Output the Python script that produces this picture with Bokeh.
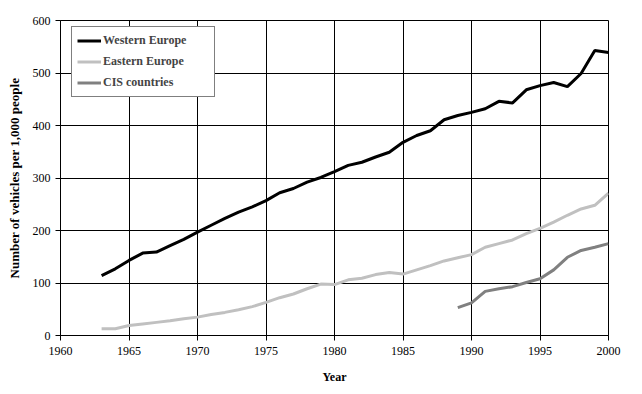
from bokeh.plotting import figure
from bokeh.models import Range1d, SingleIntervalTicker, Legend, LegendItem
from bokeh.embed import file_html
from bokeh.resources import INLINE

years_we = list(range(1963, 2001))
western = [114, 127, 143, 157, 159, 171, 183, 197, 210, 223, 235, 245, 257, 272, 280, 292, 301,
           312, 324, 330, 340, 349, 368, 381, 390, 411, 419, 425, 432, 446, 443, 468, 476, 482,
           474, 499, 543, 539]
years_ee = list(range(1963, 2001))
eastern = [13, 13, 19, 22, 25, 28, 32, 35, 40, 44, 49, 55, 63, 72, 79, 89, 98,
           97, 106, 109, 116, 120, 117, 125, 133, 142, 148, 154, 168, 175, 182, 194, 204, 216,
           229, 241, 248, 271]
years_cis = list(range(1989, 2001))
cis = [53, 62, 84, 89, 93, 101, 108, 125, 149, 162, 168, 175]

FONT = "Liberation Serif"

p = figure(width=642, height=394, output_backend="svg", toolbar_location=None,
           x_range=Range1d(1960, 2000), y_range=Range1d(0, 600),
           min_border_left=60, min_border_right=34, min_border_top=20, min_border_bottom=59)
p.outline_line_color = "black"
p.outline_line_width = 1
p.background_fill_color = "white"
p.border_fill_color = "white"

r1 = p.line(years_we, western, line_color="black", line_width=3)
r2 = p.line(years_ee, eastern, line_color="#C0C0C0", line_width=3)
r3 = p.line(years_cis, cis, line_color="#808080", line_width=3)

p.xaxis.ticker = SingleIntervalTicker(interval=5)
p.yaxis.ticker = SingleIntervalTicker(interval=100)
for ax in (p.xaxis, p.yaxis):
    ax.axis_line_color = "black"
    ax.major_tick_line_color = "black"
    ax.major_tick_out = 5
    ax.major_tick_in = 0
    ax.minor_tick_line_color = None
    ax.major_label_text_font = FONT
    ax.major_label_text_font_size = "12px"
    ax.major_label_text_color = "black"
    ax.axis_label_text_font = FONT
    ax.axis_label_text_font_size = "12px"
    ax.axis_label_text_font_style = "bold"
    ax.axis_label_text_color = "black"
p.xaxis.axis_label = "Year"
p.yaxis.axis_label = "Number of vehicles per 1,000 people"
p.yaxis.axis_label_text_font_size = "13px"
p.xaxis.major_label_standoff = 6
p.yaxis.major_label_standoff = 5
p.xaxis.axis_label_standoff = 12
p.yaxis.axis_label_standoff = 8

p.xgrid.grid_line_color = "black"
p.ygrid.grid_line_color = "black"
p.xgrid.grid_line_alpha = 1
p.ygrid.grid_line_alpha = 1

legend = Legend(items=[
    LegendItem(label="Western Europe", renderers=[r1]),
    LegendItem(label="Eastern Europe", renderers=[r2]),
    LegendItem(label="CIS countries", renderers=[r3]),
], location=(11, 238))
legend.border_line_color = "black"
legend.border_line_width = 1
legend.background_fill_color = "white"
legend.background_fill_alpha = 1
legend.label_text_font = FONT
legend.label_text_font_size = "12px"
legend.label_text_font_style = "bold"
legend.glyph_width = 24
legend.glyph_height = 17
legend.label_height = 17
legend.spacing = 4
legend.padding = 5
legend.label_standoff = 2
legend.margin = 0
legend.label_width = 106
p.add_layout(legend)

open("out.html", "w").write(file_html(p, INLINE))
